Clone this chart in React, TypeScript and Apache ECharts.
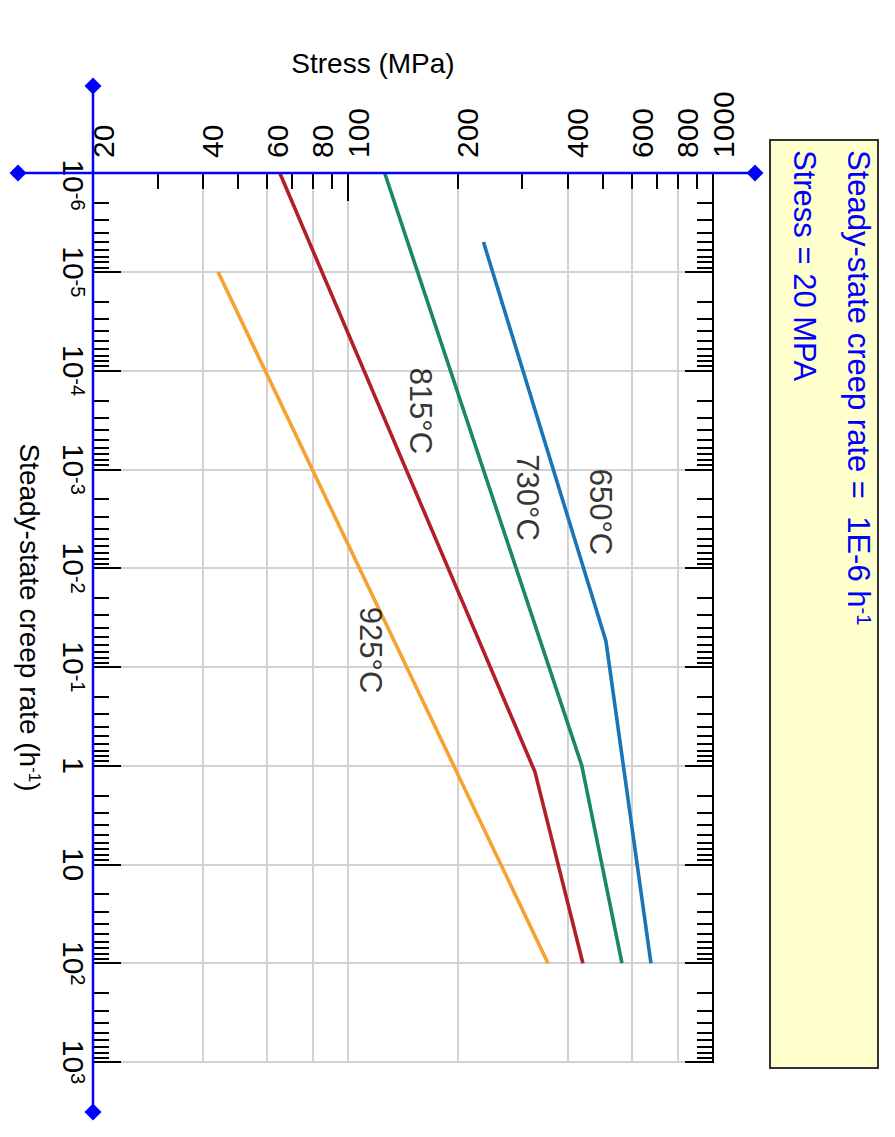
import React, { useEffect, useRef } from "react";
import * as echarts from "echarts";

// ---- Axis definitions (data units) ----
const STRESS_MIN = 20;
const STRESS_MAX = 1000;
const STRESS_TICK_LABELS = [20, 40, 60, 80, 100, 200, 400, 600, 800, 1000];
const STRESS_GRIDLINES = [40, 60, 80, 100, 200, 400, 600, 800];
const STRESS_MINOR_TICKS = [30, 40, 50, 60, 70, 80, 90, 200, 300, 400, 500, 600, 700, 800, 900];
const STRESS_MAJOR_TICKS = [100];
const RATE_EXP_MIN = -6;
const RATE_EXP_MAX = 3;
const RATE_MINOR_MULTIPLIERS = [2, 3, 4, 5, 6, 7, 8, 9];

// ---- Series ----
const SERIES_NAMES = ["650°C", "730°C", "815°C", "925°C"];
const SERIES_COLORS = ["#1b74b6", "#1a8a5c", "#b1202a", "#f7a132"];
const STRESS_650 = [235, 509, 676];
const RATE_650 = [5e-6, 0.055, 100];
const STRESS_730 = [126, 437, 563];
const RATE_730 = [1e-6, 1, 100];
const STRESS_815 = [65, 325, 440];
const RATE_815 = [1e-6, 1.15, 100];
const STRESS_925 = [44, 353];
const RATE_925 = [1e-5, 100];

// ---- Curve labels ----
const LABEL_STRESS = [493, 310, 158, 115];
const LABEL_RATE = [2.7e-3, 1.93e-3, 2.56e-4, 6.75e-2];

// ---- Reference lines ----
const REF_RATE = 1e-6;
const REF_STRESS = 20;

const FONT = "'Liberation Sans', Arial, Helvetica, sans-serif";
const lg = (v: number) => Math.log10(v);

export default function App() {
  const ref = useRef<HTMLDivElement>(null);

  useEffect(() => {
    if (!ref.current) return;
    const chart = echarts.init(ref.current, undefined, { renderer: "svg" });

    const stressRange = { min: lg(STRESS_MIN), max: lg(STRESS_MAX) };
    const rateMinor: number[] = [];
    for (let n = RATE_EXP_MIN; n < RATE_EXP_MAX; n++) {
      RATE_MINOR_MULTIPLIERS.forEach((k) => rateMinor.push(n + lg(k)));
    }
    const tickLine = { color: "#000", width: 2 };

    const xBase = {
      type: "value" as const,
      gridIndex: 0,
      position: "top" as const,
      ...stressRange,
      axisLine: { show: false, onZero: false },
      axisLabel: { show: false },
      splitLine: { show: false },
      axisTick: { show: false },
    };
    const yBase = {
      type: "value" as const,
      gridIndex: 0,
      inverse: true,
      min: RATE_EXP_MIN,
      max: RATE_EXP_MAX,
      interval: 1,
      axisLine: { show: false, onZero: false },
      axisLabel: { show: false },
      splitLine: { show: false },
      axisTick: { show: false },
    };

    const rateFormatter = (v: number) => {
      const n = Math.round(v);
      if (n === 0) return "1";
      if (n === 1) return "10";
      if (n === RATE_EXP_MIN) return "{first|10}{sup|" + n + "}";
      return "10{sup|" + n + "}";
    };

    const mkLine = (name: string, color: string, s: number[], r: number[]) => ({
      type: "line",
      name,
      xAxisIndex: 0,
      yAxisIndex: 0,
      data: s.map((v, i) => [lg(v), lg(r[i])]),
      showSymbol: false,
      symbol: "none",
      lineStyle: { color, width: 3.6 },
      z: 3,
    });

    chart.setOption({
      animation: false,
      backgroundColor: "#fff",
      textStyle: { fontFamily: FONT },
      grid: {
        left: 93,
        top: 173,
        width: 620,
        height: 889,
        show: true,
        borderColor: "#000",
        borderWidth: 2,
        containLabel: false,
        outerBoundsMode: "none",
      },
      xAxis: [
        {
          ...xBase,
          name: "Stress (MPa)",
          nameLocation: "middle",
          nameGap: 96,
          nameMoveOverlap: false,
          nameTextStyle: { fontSize: 28, color: "#000", fontFamily: FONT, padding: [0, 60, 0, 0] },
          axisTick: {
            show: true,
            inside: true,
            length: 16,
            lineStyle: tickLine,
            customValues: STRESS_MINOR_TICKS.map(lg),
          },
          axisLabel: {
            show: true,
            customValues: STRESS_TICK_LABELS.map(lg),
            formatter: (v: number) => String(Math.round(Math.pow(10, v))),
            rotate: -90,
            margin: 15,
            fontSize: 30,
            lineHeight: 20,
            verticalAlign: "top",
            color: "#000",
            fontFamily: FONT,
          },
        },
        {
          ...xBase,
          axisTick: {
            show: true,
            inside: true,
            length: 28,
            lineStyle: tickLine,
            customValues: STRESS_MAJOR_TICKS.map(lg),
          },
        },
        {
          ...xBase,
          axisTick: { show: false, customValues: STRESS_GRIDLINES.map(lg) },
          splitLine: { show: true, lineStyle: { color: "#d2d2d2", width: 2 } },
        },
      ],
      yAxis: [
        {
          ...yBase,
          position: "left",
          name: "Steady-state creep rate (h{sup|-1})",
          nameLocation: "middle",
          nameRotate: -90,
          nameGap: 50,
          nameMoveOverlap: false,
          nameTextStyle: {
            fontSize: 28,
            color: "#000",
            fontFamily: FONT,
            rich: { sup: { fontSize: 17, verticalAlign: "top", color: "#000", fontFamily: FONT } },
          },
          axisTick: { show: true, inside: true, length: 28, lineStyle: tickLine },
          splitLine: { show: true, lineStyle: { color: "#d2d2d2", width: 2 } },
          axisLabel: {
            show: true,
            rotate: -90,
            margin: 5,
            fontSize: 30,
            color: "#000",
            fontFamily: FONT,
            formatter: rateFormatter,
            rich: {
              sup: { fontSize: 20, verticalAlign: "top", color: "#000", fontFamily: FONT },
              first: { fontSize: 30, color: "#000", fontFamily: FONT, padding: [0, 0, 0, 24] },
            },
          },
        },
        {
          ...yBase,
          position: "right",
          axisTick: { show: true, inside: true, length: 28, lineStyle: tickLine },
        },
        {
          ...yBase,
          position: "left",
          axisTick: { show: true, inside: true, length: 16, lineStyle: tickLine, customValues: rateMinor },
        },
        {
          ...yBase,
          position: "right",
          axisTick: { show: true, inside: true, length: 16, lineStyle: tickLine, customValues: rateMinor },
        },
      ],
      series: [
        mkLine(SERIES_NAMES[0], SERIES_COLORS[0], STRESS_650, RATE_650),
        mkLine(SERIES_NAMES[1], SERIES_COLORS[1], STRESS_730, RATE_730),
        mkLine(SERIES_NAMES[2], SERIES_COLORS[2], STRESS_815, RATE_815),
        mkLine(SERIES_NAMES[3], SERIES_COLORS[3], STRESS_925, RATE_925),
        {
          type: "scatter",
          name: "labels",
          xAxisIndex: 0,
          yAxisIndex: 0,
          symbolSize: 1,
          itemStyle: { color: "transparent" },
          data: LABEL_STRESS.map((s, i) => ({ name: SERIES_NAMES[i], value: [lg(s), lg(LABEL_RATE[i])] })),
          label: {
            show: true,
            formatter: "{b}",
            position: "inside",
            rotate: -90,
            fontSize: 31,
            color: "#000",
            fontFamily: FONT,
          },
          z: 4,
        },
      ],
    });

    // Reference lines (creep rate = 1E-6, stress = 20 MPa), positioned through the chart's scales
    const finder = { xAxisIndex: 0, yAxisIndex: 0 };
    const [ox, oy] = chart.convertToPixel(finder, [lg(REF_STRESS), lg(REF_RATE)]) as number[];
    const rx = (chart.convertToPixel(finder, [lg(STRESS_MAX), lg(REF_RATE)]) as number[])[0];
    const by = (chart.convertToPixel(finder, [lg(REF_STRESS), RATE_EXP_MAX]) as number[])[1];
    const blue = "#0000ff";
    const d = 8.5;
    const diamond = (cx: number, cy: number) => ({
      type: "polygon",
      shape: { points: [[cx, cy - d], [cx + d, cy], [cx, cy + d], [cx - d, cy]] },
      style: { fill: blue },
      z: 100,
    });
    const hx1 = ox - 75, hx2 = rx + 42, vy1 = oy - 87, vy2 = by + 50;

    chart.setOption({
      graphic: [
        { type: "line", shape: { x1: hx1, y1: oy, x2: hx2, y2: oy }, style: { stroke: blue, lineWidth: 2.5 }, z: 99 },
        { type: "line", shape: { x1: ox, y1: vy1, x2: ox, y2: vy2 }, style: { stroke: blue, lineWidth: 2.5 }, z: 99 },
        diamond(hx1, oy),
        diamond(hx2, oy),
        diamond(ox, vy1),
        diamond(ox, vy2),
        {
          type: "rect",
          shape: { x: 770, y: 140, width: 108, height: 928 },
          style: { fill: "#ffffcc", stroke: "#333", lineWidth: 2 },
          z: 98,
        },
        {
          type: "text",
          x: 858,
          y: 150,
          rotation: -Math.PI / 2,
          z: 100,
          style: {
            text: "Steady-state creep rate =  " + REF_RATE.toExponential(0).toUpperCase().replace("+", "") + " h{sup|-1}",
            fontSize: 31,
            fontFamily: FONT,
            fill: blue,
            align: "left",
            verticalAlign: "middle",
            rich: { sup: { fontSize: 20, verticalAlign: "top", fill: blue, fontFamily: FONT } },
          },
        },
        {
          type: "text",
          x: 804,
          y: 150,
          rotation: -Math.PI / 2,
          z: 100,
          style: {
            text: "Stress = " + REF_STRESS + " MPA",
            fontSize: 31,
            fontFamily: FONT,
            fill: blue,
            align: "left",
            verticalAlign: "middle",
          },
        },
      ],
    });

    return () => chart.dispose();
  }, []);

  return (
    <div
      ref={ref}
      style={{ position: "absolute", left: 0, top: 0, width: 895, height: 1137, background: "#fff" }}
    />
  );
}
